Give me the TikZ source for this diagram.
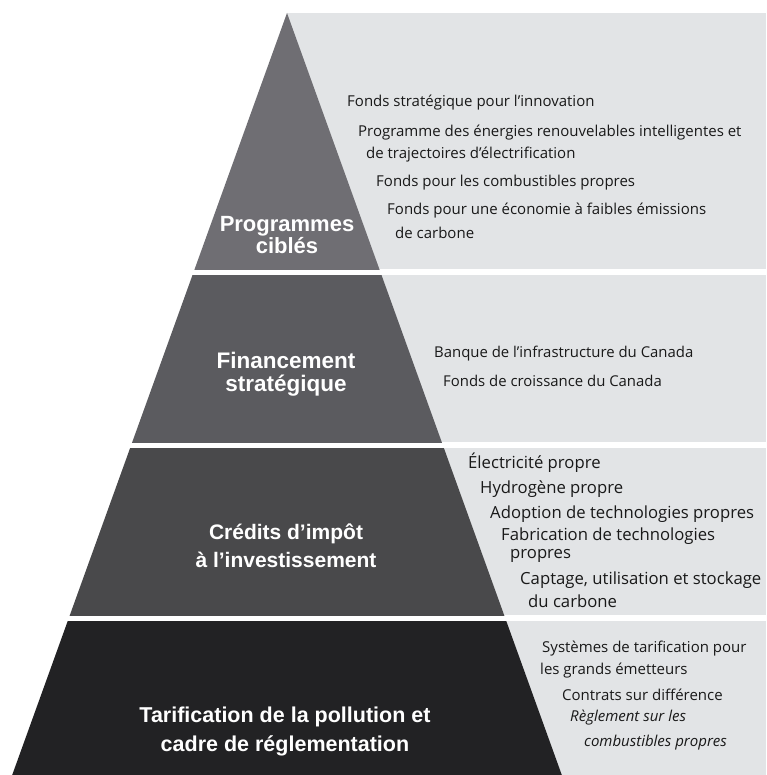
\documentclass[tikz,border=0pt]{standalone}
\usepackage{fontspec}
\setmainfont{Open Sans}
\newfontfamily\labfont{Liberation Sans}
\definecolor{bandA}{HTML}{6F6E73}
\definecolor{bandB}{HTML}{5B5B5F}
\definecolor{bandC}{HTML}{49494B}
\definecolor{bandD}{HTML}{222224}
\definecolor{bgray}{HTML}{E2E4E6}
\tikzset{
  lab/.style={text=white, align=center, font=\labfont\bfseries, inner sep=0pt},
  item/.style={anchor=west, inner sep=0pt, text=black!90},
}
\begin{document}
\begin{tikzpicture}[x=1pt,y=-1pt]
\useasboundingbox (0,0) rectangle (766,775);
\fill[white] (0,0) rectangle (766,775);
% light background panels
\fill[bgray] (287,13) rectangle (766,269);
\fill[bgray] (287,275) rectangle (766,442);
\fill[bgray] (287,448) rectangle (766,615);
\fill[bgray] (287,621) rectangle (766,775);
% pyramid bands
\coordinate (apex) at (287,13);
\coordinate (bl) at (12.2,775);
\coordinate (br) at (561.8,775);
\begin{scope}\clip (0,0) rectangle (766,269);
\fill[bandA] (apex) -- (bl) -- (br) -- cycle;\end{scope}
\begin{scope}\clip (0,275) rectangle (766,442);
\fill[bandB] (apex) -- (bl) -- (br) -- cycle;\end{scope}
\begin{scope}\clip (0,448) rectangle (766,615);
\fill[bandC] (apex) -- (bl) -- (br) -- cycle;\end{scope}
\begin{scope}\clip (0,621) rectangle (766,775);
\fill[bandD] (apex) -- (bl) -- (br) -- cycle;\end{scope}
% labels
\node[lab, font=\labfont\bfseries\fontsize{22}{21.5}\selectfont] (l1) at (287,235) {Programmes\\ciblés};
\node[lab, font=\labfont\bfseries\fontsize{22.5}{23}\selectfont] (l2) at (286,374) {Financement\\stratégique};
\node[lab, font=\labfont\bfseries\fontsize{21}{28}\selectfont] (l3) at (286,546) {Crédits d’impôt\\à l’investissement};
\node[lab, font=\labfont\bfseries\fontsize{21.5}{29}\selectfont] (l4) at (285,731) {Tarification de la pollution et\\cadre de réglementation};
% band 1 items
\begin{scope}[font=\fontsize{15}{18}\selectfont]
\node[item] (a1) at (347,103) {Fonds stratégique pour l’innovation};
\node[item] (a2) at (358,133) {Programme des énergies renouvelables intelligentes et};
\node[item] (a3) at (366,155) {de trajectoires d’électrification};
\node[item] (a4) at (376,183) {Fonds pour les combustibles propres};
\node[item] (a5) at (387,211) {Fonds pour une économie à faibles émissions};
\node[item] (a6) at (395,233) {de carbone};
\end{scope}
% band 2 items
\begin{scope}[font=\fontsize{14.9}{18}\selectfont]
\node[item] (b1) at (434,354) {Banque de l’infrastructure du Canada};
\node[item] (b2) at (443,381) {Fonds de croissance du Canada};
\end{scope}
% band 3 items
\begin{scope}[font=\fontsize{16.7}{20}\selectfont]
\node[item] (c1) at (468,463) {Électricité propre};
\node[item] (c2) at (480,489) {Hydrogène propre};
\node[item] (c3) at (490,514) {Adoption de technologies propres};
\node[item] (c4) at (501,536) {Fabrication de technologies};
\node[item] (c5) at (510,556) {propres};
\node[item] (c6) at (520,580) {Captage, utilisation et stockage};
\node[item] (c7) at (528,601) {du carbone};
\end{scope}
% band 4 items
\begin{scope}[font=\fontsize{15}{18}\selectfont]
\node[item] (d1) at (542,649) {Systèmes de tarification pour};
\node[item] (d2) at (540,671) {les grands émetteurs};
\node[item] (d3) at (562,695) {Contrats sur différence};
\node[item, font=\itshape\fontsize{15}{18}\selectfont] (d4) at (570,718) {Règlement sur les};
\node[item, font=\itshape\fontsize{15}{18}\selectfont] (d5) at (584,743) {combustibles propres};
\end{scope}
\end{tikzpicture}
\end{document}
